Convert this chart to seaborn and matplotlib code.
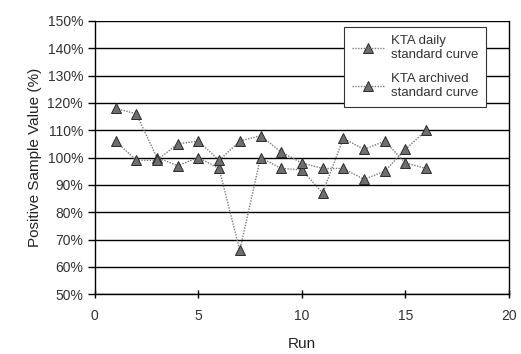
import numpy as np
import pandas as pd
import matplotlib
matplotlib.use('Agg')
import matplotlib.pyplot as plt
import seaborn as sns
from matplotlib.ticker import PercentFormatter

# data
runs = list(range(1, 17))
daily = [118, 116, 100, 97, 100, 96, 66, 100, 96, 95.5, 87, 107, 103, 106, 98, 96]
archived = [106, 99, 99, 105, 106, 99, 106, 108, 102, 98, 96, 96, 92, 95, 103, 110]
labels = ['KTA daily\nstandard curve', 'KTA archived\nstandard curve']

df = pd.DataFrame({
    'Run': runs * 2,
    'Value': daily + archived,
    'Series': [labels[0]] * len(runs) + [labels[1]] * len(runs),
})

sns.set_style('white')
plt.rcParams['font.family'] = ['Liberation Sans', 'DejaVu Sans']

fig = plt.figure(figsize=(5.21, 3.54), dpi=100)
ax = fig.add_axes([0.182, 0.169, 0.795, 0.772])

sns.lineplot(data=df, x='Run', y='Value', hue='Series', style='Series',
             palette=['#7a7a7a', '#7a7a7a'], markers=['^', '^'],
             dashes=[(1, 1), (1, 1)], markersize=7, linewidth=1,
             markerfacecolor='#6e6e6e', markeredgecolor='#2a2a2a',
             markeredgewidth=0.7, ax=ax)

ax.set_xlim(0, 20)
ax.set_ylim(50, 150)
ax.set_xticks([0, 5, 10, 15, 20])
ax.set_yticks(np.arange(50, 151, 10))
ax.yaxis.set_major_formatter(PercentFormatter(decimals=0))
ax.grid(axis='y', color='black', linewidth=1)
ax.set_axisbelow(True)

for side in ['left', 'bottom', 'right']:
    ax.spines[side].set_color('black')
    ax.spines[side].set_linewidth(1)
ax.spines['top'].set_visible(False)

ax.tick_params(axis='y', direction='out', length=5, width=1, color='black',
               labelsize=10, labelcolor='#333333', left=True)
ax.tick_params(axis='x', direction='inout', length=6, width=1, color='black',
               labelsize=10, labelcolor='#333333', bottom=True, pad=8)

ax.set_xlabel('Run', fontsize=11, color='#222222', labelpad=10)
ax.set_ylabel('Positive Sample Value (%)', fontsize=11, color='#222222', labelpad=4)

leg = ax.legend(loc='upper right', bbox_to_anchor=(0.96, 1.0), frameon=True,
                fancybox=False, edgecolor='#333333', fontsize=9.5, framealpha=1,
                labelspacing=0.9, handlelength=2.4, handletextpad=0.5,
                borderpad=0.6)
leg.get_frame().set_linewidth(0.8)
for t in leg.get_texts():
    t.set_color('#333333')

fig.savefig('out.png', dpi=100)
